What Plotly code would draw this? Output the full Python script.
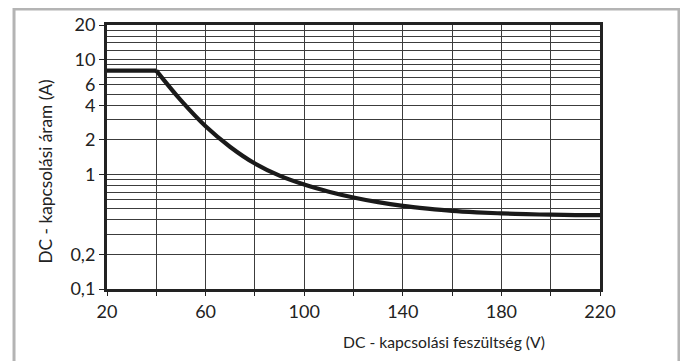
import plotly.graph_objects as go

# Data
voltage = [20, 40, 50, 60, 70, 80, 90, 100, 110, 120, 130, 140, 150, 160, 170, 180, 190, 200, 210, 220]
current = [8, 8, 4.40, 2.62, 1.73, 1.24, 0.973, 0.813, 0.705, 0.628, 0.571, 0.530, 0.502, 0.480, 0.466, 0.456, 0.449, 0.444, 0.441, 0.44]

x_tick_vals = [20, 60, 100, 140, 180, 220]
x_minor_vals = [40, 80, 120, 160, 200]
y_tick_vals = [0.1, 0.2, 1, 2, 4, 6, 10, 20]
y_tick_text = ["0,1", "0,2", "1", "2", "4", "6", "10", "20"]
y_grid_vals = [0.3, 0.4, 0.5, 0.6, 0.7, 0.8, 0.9, 3, 5, 7, 8, 9, 12, 14, 16, 18]

x_title = "DC - kapcsolási feszültség (V)"
y_title = "DC - kapcsolási áram (A)"

FONT = "Lato"
GRID = "#3c3c3c"
LINE = dict(color="#1a1a1a", width=4.2)

fig = go.Figure()
# flat plateau
fig.add_trace(go.Scatter(x=voltage[:2], y=current[:2], mode="lines",
                         line=LINE, hoverinfo="skip"))
# decaying part
fig.add_trace(go.Scatter(x=voltage[1:], y=current[1:], mode="lines",
                         line=dict(LINE, shape="spline", smoothing=1.0), hoverinfo="skip"))

# page body has an 8px margin, so the figure is sized to fit the 688x361 window
fig.update_layout(
    width=680, height=353,
    margin=dict(l=99, r=88, t=17, b=72, autoexpand=False),
    paper_bgcolor="white", plot_bgcolor="white",
    showlegend=False,
    font=dict(family=FONT, color="#222", size=17),
)

fig.update_xaxes(
    range=[20, 220], tickvals=x_tick_vals, ticktext=[str(v) for v in x_tick_vals],
    showgrid=True, gridcolor=GRID, gridwidth=1.4, automargin=False,
    ticks="outside", ticklen=4, tickwidth=1.2, tickcolor="#222",
    showline=True, linecolor="#222", linewidth=3, mirror=True,
    tickfont=dict(size=18), zeroline=False,
    minor=dict(tickvals=x_minor_vals, showgrid=True, gridcolor=GRID, gridwidth=1.4,
               ticks="outside", ticklen=4, tickcolor="#222"),
)
fig.update_yaxes(
    type="log", range=[-1, 1.30103],
    tickvals=y_tick_vals, ticktext=y_tick_text, automargin=False,
    showgrid=True, gridcolor=GRID, gridwidth=1.4,
    ticks="outside", ticklen=5, tickwidth=1.2, tickcolor="#222",
    showline=True, linecolor="#222", linewidth=3, mirror=True,
    tickfont=dict(size=18), zeroline=False,
    minor=dict(tickvals=y_grid_vals, showgrid=True, gridcolor=GRID, gridwidth=1.4, ticks=""),
)

fig.add_annotation(text=x_title, xref="paper", yref="paper", x=0.8925, y=-0.2,
                   xanchor="right", yanchor="middle", showarrow=False,
                   font=dict(size=15.7, family=FONT, color="#222"))
fig.add_annotation(text=y_title, xref="paper", yref="paper", x=-0.1237, y=0.445,
                   xanchor="center", yanchor="middle", textangle=-90, showarrow=False,
                   font=dict(size=17.3, family=FONT, color="#222"))

# outer light-gray frame
fig.add_shape(type="path", xref="paper", yref="paper",
              path="M -0.1886,-0.35 L -0.1886,1.0606 L 1.1602,1.0606 L 1.1602,-0.35",
              line=dict(color="#b4b4b4", width=3), layer="below")

fig.write_html("out.html")
